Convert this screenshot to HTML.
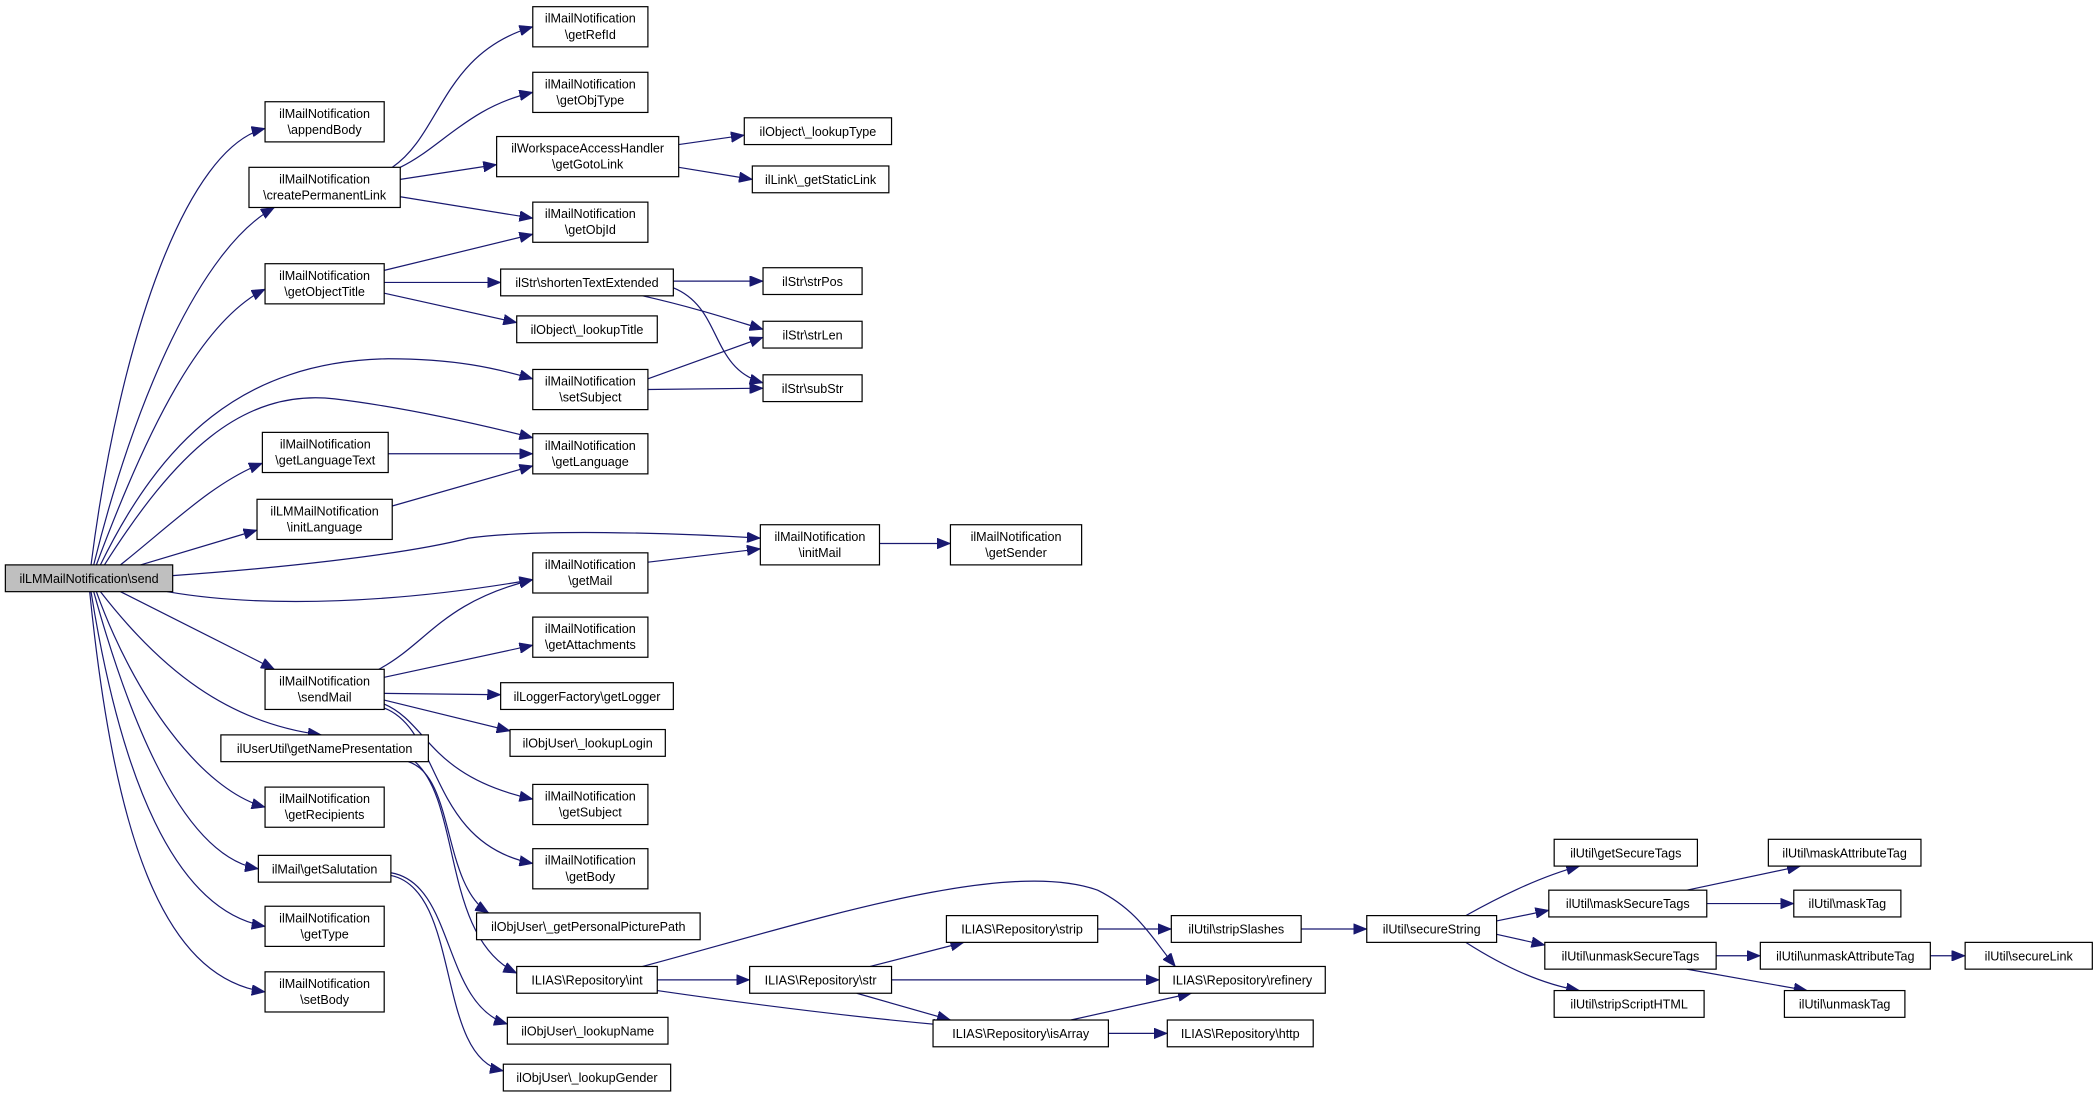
<!DOCTYPE html>
<html><head><meta charset="utf-8"><style>
html,body{margin:0;padding:0;background:#fff;}
svg{display:block;}
text{font-family:"Liberation Sans",sans-serif;font-size:9.4px;fill:#000;text-anchor:middle;}
rect{fill:#fff;stroke:#000;stroke-width:0.9;}
path{fill:none;stroke:#191970;stroke-width:0.9;}
</style></head><body>
<svg width="2099" height="1101" viewBox="0 0 1568 822.5" preserveAspectRatio="none" xmlns="http://www.w3.org/2000/svg">
<defs><marker id="a" markerUnits="userSpaceOnUse" markerWidth="10" markerHeight="8" refX="10" refY="4" orient="auto"><path d="M0,0 L10,4 L0,8 z" style="fill:#191970;stroke:#191970;stroke-width:0.5"/></marker></defs>
<g marker-end="url(#a)">
<path d="M68,422 C90,250 140,110 198,96"/>
<path d="M70,422 C100,300 150,185 205,155"/>
<path d="M72,422 C110,320 150,240 198,216"/>
<path d="M75,422 C120,330 180,270 290,268 C340,268 370,275 398,283"/>
<path d="M78,422 C130,340 180,290 250,298 C300,304 350,315 398,327"/>
<path d="M90,422 C130,390 160,360 196,346"/>
<path d="M105,422 L192,396"/>
<path d="M129,430 C200,425 300,415 350,402 C400,395 500,398 568,402"/>
<path d="M125,442 C200,455 300,450 398,433"/>
<path d="M90,442 L205,500"/>
<path d="M75,442 C120,500 170,540 240,549"/>
<path d="M72,442 C100,520 150,590 198,603"/>
<path d="M70,442 C100,550 140,640 193,649"/>
<path d="M68,442 C90,580 130,680 198,692"/>
<path d="M67,442 C85,620 120,730 198,741"/>
<path d="M293,125 C330,100 330,40 398,20"/>
<path d="M299,125 C330,110 350,80 398,69"/>
<path d="M299,134 L371,123"/>
<path d="M299,147 L398,163"/>
<path d="M287,202 L398,175"/>
<path d="M287,211 L374,211"/>
<path d="M287,219 L386,241"/>
<path d="M507,108 L556,101"/>
<path d="M507,125 L562,134"/>
<path d="M503,210 L570,210"/>
<path d="M480,221 C520,230 550,240 570,246"/>
<path d="M503,215 C540,230 530,275 570,286"/>
<path d="M484,283 L570,252"/>
<path d="M484,291 L570,290"/>
<path d="M290,339 L398,339"/>
<path d="M293,378 L398,348"/>
<path d="M484,420 L568,410"/>
<path d="M657,406 L710,406"/>
<path d="M283,500 C320,480 330,450 398,433"/>
<path d="M287,506 L398,482"/>
<path d="M287,518 L374,519"/>
<path d="M287,523 L381,546"/>
<path d="M287,526 C320,540 320,580 398,597"/>
<path d="M287,529 C330,545 320,630 398,645"/>
<path d="M305,569 C340,580 330,660 365,682"/>
<path d="M310,569 C345,600 330,700 386,727"/>
<path d="M292,652 C340,660 330,750 379,765"/>
<path d="M292,654 C345,665 325,790 376,800"/>
<path d="M480,722 C600,690 750,640 820,665 C850,680 860,700 878,722"/>
<path d="M491,732 L560,732"/>
<path d="M491,740 C560,750 640,760 707,766"/>
<path d="M650,722 L720,704"/>
<path d="M666,732 L866,732"/>
<path d="M640,742 L710,762"/>
<path d="M800,762 L890,742"/>
<path d="M828,772 L872,772"/>
<path d="M820,694 L875,694"/>
<path d="M972,694 L1021,694"/>
<path d="M1095,684 C1120,670 1150,655 1180,647"/>
<path d="M1118,688 L1157,680"/>
<path d="M1118,698 L1154,706"/>
<path d="M1095,704 C1120,720 1150,735 1180,740"/>
<path d="M1260,665 L1345,647"/>
<path d="M1275,675 L1340,675"/>
<path d="M1282,714 L1315,714"/>
<path d="M1260,724 L1350,740"/>
<path d="M1442,714 L1468,714"/>
</g>
<g>
<rect x="4" y="422" width="125" height="20" style="fill:#bfbfbf"/><text x="66.5" y="435.5">ilLMMailNotification\send</text>

<rect x="198" y="76" width="89" height="30"/><text x="242.5" y="88">ilMailNotification</text><text x="242.5" y="100">\appendBody</text>
<rect x="186" y="125" width="113" height="30"/><text x="242.5" y="137">ilMailNotification</text><text x="242.5" y="149">\createPermanentLink</text>
<rect x="198" y="197" width="89" height="30"/><text x="242.5" y="209">ilMailNotification</text><text x="242.5" y="221">\getObjectTitle</text>
<rect x="196" y="323" width="94" height="30"/><text x="243" y="335">ilMailNotification</text><text x="243" y="347">\getLanguageText</text>
<rect x="192" y="373" width="101" height="30"/><text x="242.5" y="385">ilLMMailNotification</text><text x="242.5" y="397">\initLanguage</text>
<rect x="198" y="500" width="89" height="30"/><text x="242.5" y="512">ilMailNotification</text><text x="242.5" y="524">\sendMail</text>
<rect x="165" y="549" width="155" height="20"/><text x="242.5" y="562.5">ilUserUtil\getNamePresentation</text>
<rect x="198" y="588" width="89" height="30"/><text x="242.5" y="600">ilMailNotification</text><text x="242.5" y="612">\getRecipients</text>
<rect x="193" y="639" width="99" height="20"/><text x="242.5" y="652.5">ilMail\getSalutation</text>
<rect x="198" y="677" width="89" height="30"/><text x="242.5" y="689">ilMailNotification</text><text x="242.5" y="701">\getType</text>
<rect x="198" y="726" width="89" height="30"/><text x="242.5" y="738">ilMailNotification</text><text x="242.5" y="750">\setBody</text>

<rect x="398" y="5" width="86" height="30"/><text x="441" y="17">ilMailNotification</text><text x="441" y="29">\getRefId</text>
<rect x="398" y="54" width="86" height="30"/><text x="441" y="66">ilMailNotification</text><text x="441" y="78">\getObjType</text>
<rect x="371" y="102" width="136" height="30"/><text x="439" y="114">ilWorkspaceAccessHandler</text><text x="439" y="126">\getGotoLink</text>
<rect x="398" y="151" width="86" height="30"/><text x="441" y="163">ilMailNotification</text><text x="441" y="175">\getObjId</text>
<rect x="374" y="201" width="129" height="20"/><text x="438.5" y="214.5">ilStr\shortenTextExtended</text>
<rect x="386" y="236" width="105" height="20"/><text x="438.5" y="249.5">ilObject\_lookupTitle</text>
<rect x="398" y="276" width="86" height="30"/><text x="441" y="288">ilMailNotification</text><text x="441" y="300">\setSubject</text>
<rect x="398" y="324" width="86" height="30"/><text x="441" y="336">ilMailNotification</text><text x="441" y="348">\getLanguage</text>
<rect x="398" y="413" width="86" height="30"/><text x="441" y="425">ilMailNotification</text><text x="441" y="437">\getMail</text>
<rect x="398" y="461" width="86" height="30"/><text x="441" y="473">ilMailNotification</text><text x="441" y="485">\getAttachments</text>
<rect x="374" y="510" width="129" height="20"/><text x="438.5" y="523.5">ilLoggerFactory\getLogger</text>
<rect x="381" y="545" width="116" height="20"/><text x="439" y="558.5">ilObjUser\_lookupLogin</text>
<rect x="398" y="586" width="86" height="30"/><text x="441" y="598">ilMailNotification</text><text x="441" y="610">\getSubject</text>
<rect x="398" y="634" width="86" height="30"/><text x="441" y="646">ilMailNotification</text><text x="441" y="658">\getBody</text>
<rect x="356" y="682" width="167" height="20"/><text x="439.5" y="695.5">ilObjUser\_getPersonalPicturePath</text>
<rect x="386" y="722" width="105" height="20"/><text x="438.5" y="735.5">ILIAS\Repository\int</text>
<rect x="379" y="760" width="120" height="20"/><text x="439" y="773.5">ilObjUser\_lookupName</text>
<rect x="376" y="795" width="125" height="20"/><text x="438.5" y="808.5">ilObjUser\_lookupGender</text>

<rect x="556" y="88" width="110" height="20"/><text x="611" y="101.5">ilObject\_lookupType</text>
<rect x="562" y="124" width="102" height="20"/><text x="613" y="137.5">ilLink\_getStaticLink</text>
<rect x="570" y="200" width="74" height="20"/><text x="607" y="213.5">ilStr\strPos</text>
<rect x="570" y="240" width="74" height="20"/><text x="607" y="253.5">ilStr\strLen</text>
<rect x="570" y="280" width="74" height="20"/><text x="607" y="293.5">ilStr\subStr</text>
<rect x="568" y="392" width="89" height="30"/><text x="612.5" y="404">ilMailNotification</text><text x="612.5" y="416">\initMail</text>
<rect x="707" y="684" width="113" height="20"/><text x="763.5" y="697.5">ILIAS\Repository\strip</text>
<rect x="560" y="722" width="106" height="20"/><text x="613" y="735.5">ILIAS\Repository\str</text>
<rect x="697" y="762" width="131" height="20"/><text x="762.5" y="775.5">ILIAS\Repository\isArray</text>

<rect x="710" y="392" width="98" height="30"/><text x="759" y="404">ilMailNotification</text><text x="759" y="416">\getSender</text>
<rect x="875" y="684" width="97" height="20"/><text x="923.5" y="697.5">ilUtil\stripSlashes</text>
<rect x="866" y="722" width="124" height="20"/><text x="928" y="735.5">ILIAS\Repository\refinery</text>
<rect x="872" y="762" width="109" height="20"/><text x="926.5" y="775.5">ILIAS\Repository\http</text>

<rect x="1021" y="684" width="97" height="20"/><text x="1069.5" y="697.5">ilUtil\secureString</text>
<rect x="1161" y="627" width="107" height="20"/><text x="1214.5" y="640.5">ilUtil\getSecureTags</text>
<rect x="1157" y="665" width="118" height="20"/><text x="1216" y="678.5">ilUtil\maskSecureTags</text>
<rect x="1154" y="704" width="128" height="20"/><text x="1218" y="717.5">ilUtil\unmaskSecureTags</text>
<rect x="1161" y="740" width="112" height="20"/><text x="1217" y="753.5">ilUtil\stripScriptHTML</text>
<rect x="1321" y="627" width="114" height="20"/><text x="1378" y="640.5">ilUtil\maskAttributeTag</text>
<rect x="1340" y="665" width="80" height="20"/><text x="1380" y="678.5">ilUtil\maskTag</text>
<rect x="1315" y="704" width="127" height="20"/><text x="1378.5" y="717.5">ilUtil\unmaskAttributeTag</text>
<rect x="1333" y="740" width="90" height="20"/><text x="1378" y="753.5">ilUtil\unmaskTag</text>
<rect x="1468" y="704" width="95" height="20"/><text x="1515.5" y="717.5">ilUtil\secureLink</text>
</g>
</svg>
</body></html>
